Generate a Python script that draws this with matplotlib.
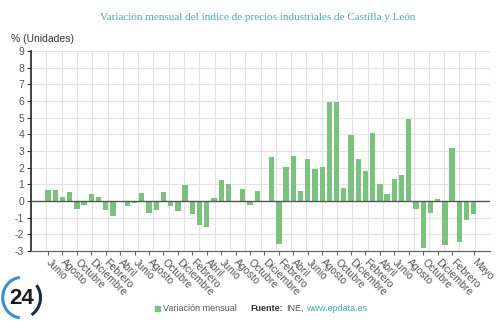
import matplotlib.pyplot as plt
import numpy as np
from matplotlib.patches import Arc

# Variación mensual (%) desde junio 2019 hasta mayo 2024
meses = ["Enero", "Febrero", "Marzo", "Abril", "Mayo", "Junio", "Julio",
         "Agosto", "Septiembre", "Octubre", "Noviembre", "Diciembre"]
categorias = [meses[(5 + i) % 12] for i in range(60)]
valores = [
    0.68, 0.64, 0.22, 0.54, -0.48, -0.26, 0.44, 0.22, -0.56, -0.90,
    -0.02, -0.32, -0.10, 0.48, -0.70, -0.55, 0.57, -0.28, -0.58, 0.97,
    -0.80, -1.45, -1.55, 0.17, 1.25, 1.00, 0.02, 0.70, -0.22, 0.62,
    -0.02, 2.62, -2.56, 2.02, 2.68, 0.61, 2.52, 1.90, 2.06, 5.95,
    5.95, 0.80, 3.95, 2.52, 1.80, 4.07, 1.00, 0.42, 1.30, 1.54,
    4.90, -0.50, -2.82, -0.74, 0.12, -2.62, 3.18, -2.48, -1.16, -0.78,
]
ticks_idx = list(range(0, 57, 2)) + [59]
y_ticks = list(range(-3, 10))

plt.rcParams["font.family"] = ["Liberation Sans", "DejaVu Sans"]

fig = plt.figure(figsize=(5.0, 3.21), dpi=100)
ax = fig.add_axes([0.062, 0.218, 0.918, 0.623])

x = np.arange(len(valores))
xmin, xmax = -2.36, len(valores) - 1 + 2.26
ax.set_xlim(xmin, xmax)
ax.set_ylim(-3, 9)

# grid
for gx in np.linspace(xmin, xmax, 31)[1:]:
    ax.axvline(gx, color="#e2e2e2", lw=0.8, zorder=0)
for gy in y_ticks:
    ax.axhline(gy, color="#e2e2e2", lw=0.8, zorder=0)

ax.bar(x, valores, width=0.74, color="#7cc27f", zorder=2)
ax.axhline(0, color="#555555", lw=1.0, zorder=3)

for s in ["top", "right"]:
    ax.spines[s].set_visible(False)
ax.spines["left"].set_color("#333333")
ax.spines["left"].set_linewidth(1.3)
ax.spines["bottom"].set_color("#666666")
ax.spines["bottom"].set_linewidth(0.9)

ax.set_yticks(y_ticks)
ax.set_yticklabels([str(v) for v in y_ticks])
ax.tick_params(axis="y", length=3, width=0.8, color="#333333",
               labelsize=7.5, labelcolor="#555555", pad=2)

ax.set_xticks([x[i] for i in ticks_idx])
ax.set_xticklabels([categorias[i] for i in ticks_idx], rotation=-45,
                   ha="left", va="center", rotation_mode="anchor")
ax.tick_params(axis="x", length=3, width=0.8, color="#666666",
               labelsize=7.5, labelcolor="#555555", pad=4)

fig.text(0.516, 0.945, "Variación mensual del índice de precios industriales de Castilla y León",
         ha="center", va="center", fontsize=8, color="#4aaab2",
         family=["Liberation Serif", "DejaVu Serif"])
fig.text(0.022, 0.88, "% (Unidades)", ha="left", va="center",
         fontsize=7.5, color="#333333")

# leyenda y fuente
fig.patches.append(plt.Rectangle((0.309, 0.031), 0.011, 0.017,
                                 transform=fig.transFigure, color="#7cc27f"))
fig.text(0.326, 0.04, "Variación mensual", ha="left", va="center",
         fontsize=6.5, color="#555555")
fig.text(0.500, 0.04, "Fuente:", ha="left", va="center",
         fontsize=6.5, color="#333333", weight="bold")
fig.text(0.573, 0.04, "INE,", ha="left", va="center",
         fontsize=6.5, color="#555555")
fig.text(0.613, 0.04, "www.epdata.es", ha="left", va="center",
         fontsize=6.5, color="#4aaab2")

# logo
lax = fig.add_axes([0.0, 0.0, 0.09, 0.14])
lax.set_xlim(0, 1)
lax.set_ylim(0, 1)
lax.axis("off")
lax.add_patch(Arc((0.48, 0.52), 0.84, 0.9, theta1=95, theta2=265,
                  color="#3b8fd0", lw=2.2))
lax.add_patch(Arc((0.48, 0.52), 0.84, 0.9, theta1=-60, theta2=40,
                  color="#1d2a40", lw=2.2))
lax.text(0.48, 0.5, "24", ha="center", va="center", fontsize=16,
         weight="bold", color="#1b1b1b")

fig.savefig("out.png", dpi=100)
